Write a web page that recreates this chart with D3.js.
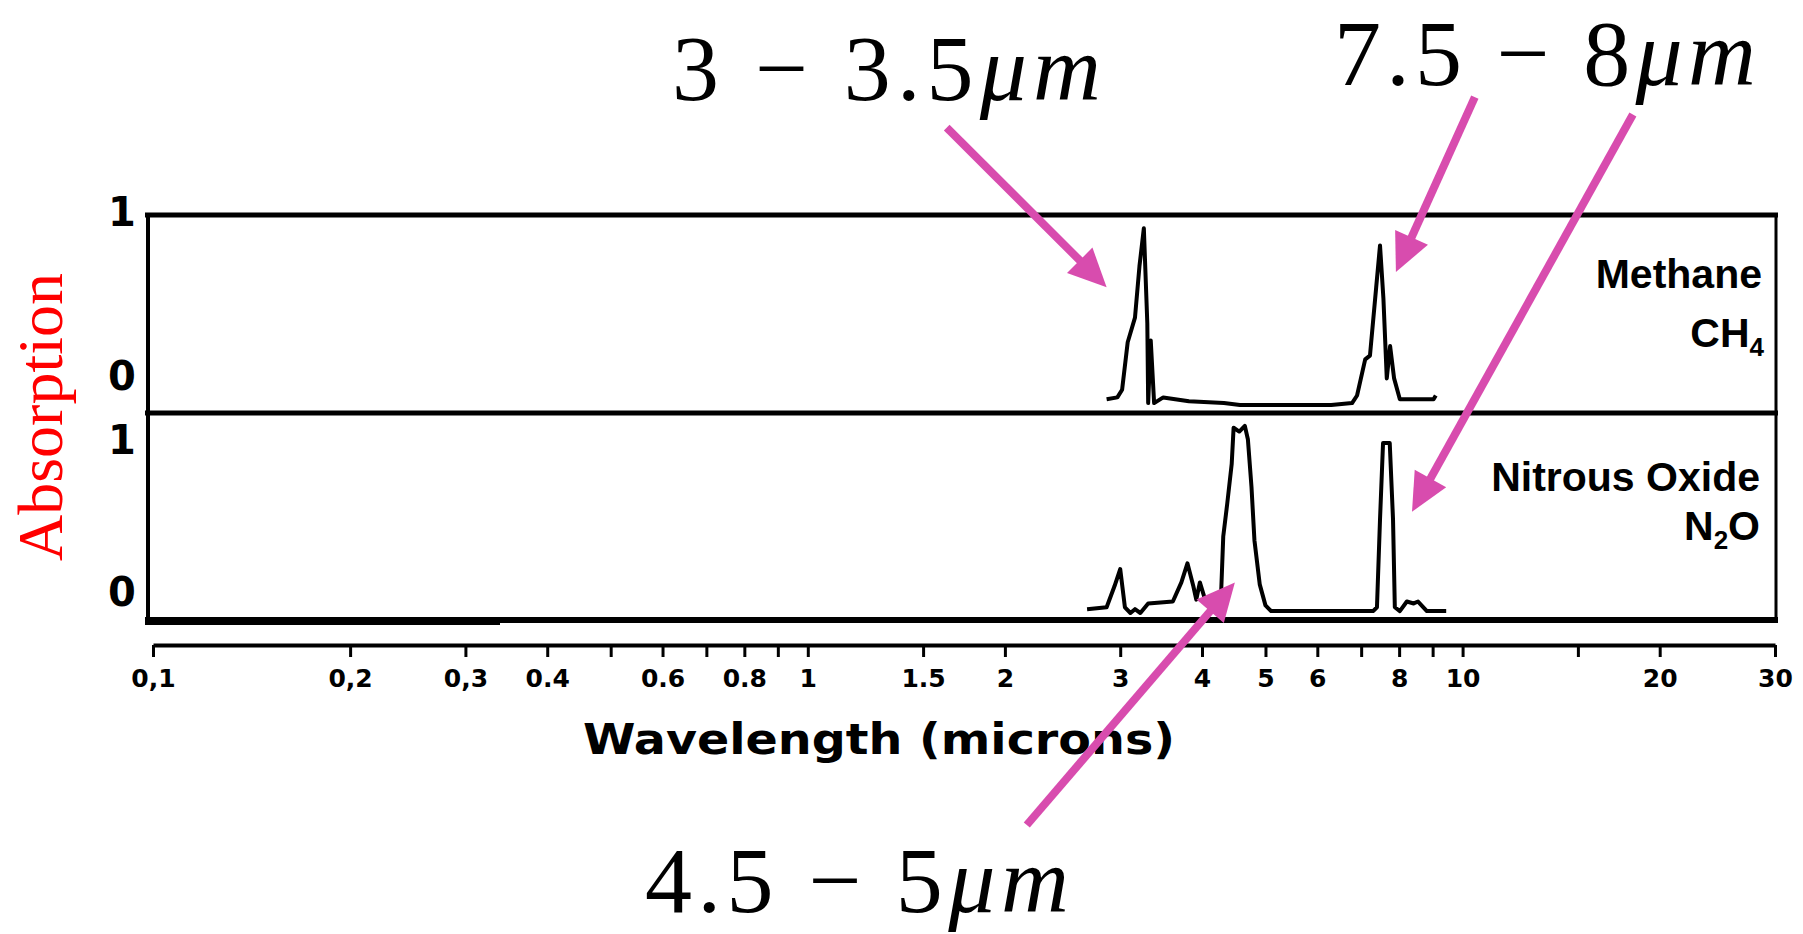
<!DOCTYPE html>
<html>
<head>
<meta charset="utf-8">
<script src="https://cdn.jsdelivr.net/npm/d3@7"></script>
<style>
  body { margin: 0; background: #fff; }
  svg { display: block; }
</style>
</head>
<body>
<script>
// spectra (wavelength in microns, absorption 0..1)
let methaneWavelength = [2.86, 2.97, 3.02, 3.08, 3.16, 3.21, 3.26, 3.30, 3.31, 3.34, 3.38, 3.49, 3.82, 4.32, 4.57, 6.3, 6.78, 6.9, 7.10, 7.22, 7.38, 7.48, 7.57, 7.66, 7.75, 7.86, 8.02, 9.03, 9.1];
let methaneAbsorption = [0.03, 0.04, 0.08, 0.33, 0.46, 0.73, 0.93, 0.43, 0.01, 0.34, 0.01, 0.04, 0.02, 0.01, 0.0, 0.0, 0.01, 0.05, 0.24, 0.26, 0.62, 0.84, 0.56, 0.14, 0.31, 0.14, 0.03, 0.03, 0.05];

let n2oWavelength = [2.67, 2.86, 2.94, 3.0, 3.05, 3.11, 3.16, 3.22, 3.31, 3.61, 3.72, 3.80, 3.88, 3.92, 3.97, 4.06, 4.17, 4.27, 4.31, 4.37, 4.44, 4.47, 4.56, 4.65, 4.70, 4.76, 4.81, 4.90, 5.00, 5.1, 7.3, 7.40, 7.48, 7.56, 7.74, 7.83, 7.88, 8.02, 8.22, 8.42, 8.55, 8.82, 9.44];
let n2oAbsorption = [0.02, 0.03, 0.14, 0.23, 0.03, 0.0, 0.02, 0.0, 0.05, 0.06, 0.16, 0.26, 0.14, 0.07, 0.16, 0.05, 0.02, 0.03, 0.40, 0.57, 0.78, 0.97, 0.95, 0.98, 0.91, 0.66, 0.38, 0.15, 0.04, 0.01, 0.01, 0.03, 0.49, 0.89, 0.89, 0.49, 0.03, 0.01, 0.06, 0.05, 0.06, 0.01, 0.01];

// x axis ticks (log scale) and the labels printed under them
let tickValues = [0.1, 0.2, 0.3, 0.4, 0.5, 0.6, 0.7, 0.8, 0.9, 1, 1.5, 2, 3, 4, 5, 6, 7, 8, 9, 10, 15, 20, 30];
let labelValues = [0.1, 0.2, 0.3, 0.4, 0.6, 0.8, 1, 1.5, 2, 3, 4, 5, 6, 8, 10, 20, 30];
let labelTexts = ['0,1', '0,2', '0,3', '0.4', '0.6', '0.8', '1', '1.5', '2', '3', '4', '5', '6', '8', '10', '20', '30'];

// pink arrows: tail and tip in (wavelength, absorption) of their panel
let arrowPanel = ['top', 'top', 'bottom', 'bottom'];
let arrowTail = [[1.63, 1.46], [10.44, 1.62], [18.2, 2.61], [2.16, -1.11]];
let arrowTip = [[2.86, 0.62], [7.91, 0.70], [8.37, 0.53], [4.49, 0.16]];

let bandTexts = ['3 − 3.5', '7.5 − 8', '4.5 − 5'];

let svgWidth = 1803;
let svgHeight = 934;
let pink = '#d84cae';

let svg = d3.select('body')
  .append('svg')
  .attr('width', svgWidth)
  .attr('height', svgHeight)
  .style('background', '#fff');

// scales
let x = d3.scaleLog().domain([0.1, 30]).range([153, 1775]);
let yTop = d3.scaleLinear().domain([0, 1]).range([405, 215]);
let yBottom = d3.scaleLinear().domain([0, 1]).range([613, 422]);
let panelScale = { top: yTop, bottom: yBottom };

// frame of the two panels
let frame = svg.append('g').attr('stroke', '#000').attr('fill', 'none');
frame.append('line').attr('x1', 145).attr('x2', 1778).attr('y1', 215).attr('y2', 215).attr('stroke-width', 5);
frame.append('line').attr('x1', 145).attr('x2', 1778).attr('y1', 413).attr('y2', 413).attr('stroke-width', 5);
frame.append('line').attr('x1', 145).attr('x2', 1778).attr('y1', 620).attr('y2', 620).attr('stroke-width', 6);
frame.append('line').attr('x1', 145).attr('x2', 500).attr('y1', 622).attr('y2', 622).attr('stroke-width', 6);
frame.append('line').attr('x1', 148).attr('x2', 148).attr('y1', 213).attr('y2', 623).attr('stroke-width', 4);
frame.append('line').attr('x1', 1776).attr('x2', 1776).attr('y1', 213).attr('y2', 623).attr('stroke-width', 3);

// absorption tick numbers on the left
let absLabels = [{ t: '1', y: 212 }, { t: '0', y: 376 }, { t: '1', y: 440 }, { t: '0', y: 592 }];
svg.selectAll('.abslabel')
  .data(absLabels)
  .enter()
  .append('text')
    .attr('class', 'abslabel')
    .attr('x', 122)
    .attr('y', d => d.y)
    .attr('dy', '0.36em')
    .attr('text-anchor', 'middle')
    .style('font', 'bold 40px "DejaVu Sans"')
    .text(d => d.t);

// spectra
let line = d3.line().x(d => x(d[0]));

svg.append('path')
  .datum(d3.zip(methaneWavelength, methaneAbsorption))
  .attr('d', line.y(d => yTop(d[1])))
  .attr('fill', 'none')
  .attr('stroke', '#000')
  .attr('stroke-width', 4)
  .attr('stroke-linejoin', 'round');

svg.append('path')
  .datum(d3.zip(n2oWavelength, n2oAbsorption))
  .attr('d', line.y(d => yBottom(d[1])))
  .attr('fill', 'none')
  .attr('stroke', '#000')
  .attr('stroke-width', 4)
  .attr('stroke-linejoin', 'round');

// gas names
let gasFont = 'bold 41px "Liberation Sans", Arial, sans-serif';
svg.append('text').attr('x', 1762).attr('y', 288).attr('text-anchor', 'end').style('font', gasFont).text('Methane');
let ch4 = svg.append('text').attr('x', 1764).attr('y', 347).attr('text-anchor', 'end').style('font', gasFont);
ch4.append('tspan').text('CH');
ch4.append('tspan').attr('dy', 9).style('font-size', '26px').text('4');

svg.append('text').attr('x', 1760).attr('y', 491).attr('text-anchor', 'end').style('font', gasFont).text('Nitrous Oxide');
let n2o = svg.append('text').attr('x', 1760).attr('y', 540).attr('text-anchor', 'end').style('font', gasFont);
n2o.append('tspan').text('N');
n2o.append('tspan').attr('dy', 9).style('font-size', '26px').text('2');
n2o.append('tspan').attr('dy', -9).text('O');

// wavelength axis
let axis = d3.axisBottom(x)
  .tickValues(tickValues)
  .tickSize(12)
  .tickSizeOuter(0)
  .tickPadding(12)
  .tickFormat(d => {
    let i = labelValues.indexOf(d);
    return i < 0 ? '' : labelTexts[i];
  });

let gAxis = svg.append('g')
  .attr('transform', 'translate(0,645)')
  .call(axis);
gAxis.select('.domain').attr('stroke-width', 4);
gAxis.selectAll('.tick line').attr('stroke-width', 3);
gAxis.selectAll('.tick text')
  .attr('fill', '#000')
  .style('font', 'bold 25px "DejaVu Sans"');

svg.append('text')
  .attr('x', 583)
  .attr('y', 754)
  .attr('textLength', 592)
  .attr('lengthAdjust', 'spacingAndGlyphs')
  .style('font', 'bold 42px "DejaVu Sans"')
  .text('Wavelength (microns)');

// y axis title
svg.append('text')
  .attr('transform', 'translate(62,417) rotate(-90)')
  .attr('text-anchor', 'middle')
  .attr('fill', '#ff0000')
  .style('font', '64px "Liberation Serif", "Times New Roman", serif')
  .text('Absorption');

// band annotations
let bandPos = [{ x: 672, y: 100, w: 429 }, { x: 1334, y: 85, w: 422 }, { x: 645, y: 912, w: 424 }];
bandTexts.forEach((t, i) => {
  let txt = svg.append('text')
    .attr('x', bandPos[i].x)
    .attr('y', bandPos[i].y)
    .attr('textLength', bandPos[i].w)
    .style('font', '94px "Liberation Serif", "Times New Roman", serif');
  txt.append('tspan').text(t);
  txt.append('tspan').style('font-style', 'italic').text('μm');
});

// arrows
let headLen = 38;
let headHalf = 18;
arrowTail.forEach((tail, i) => {
  let ys = panelScale[arrowPanel[i]];
  let x0 = x(tail[0]), y0 = ys(tail[1]);
  let x1 = x(arrowTip[i][0]), y1 = ys(arrowTip[i][1]);
  let len = Math.hypot(x1 - x0, y1 - y0);
  let ux = (x1 - x0) / len, uy = (y1 - y0) / len;
  let bx = x1 - ux * headLen, by = y1 - uy * headLen;
  svg.append('line')
    .attr('x1', x0).attr('y1', y0)
    .attr('x2', bx + ux * 4).attr('y2', by + uy * 4)
    .attr('stroke', pink)
    .attr('stroke-width', 8);
  svg.append('path')
    .attr('d', 'M' + x1 + ',' + y1 +
      'L' + (bx - uy * headHalf) + ',' + (by + ux * headHalf) +
      'L' + (bx + uy * headHalf) + ',' + (by - ux * headHalf) + 'Z')
    .attr('fill', pink);
});
</script>
</body>
</html>
